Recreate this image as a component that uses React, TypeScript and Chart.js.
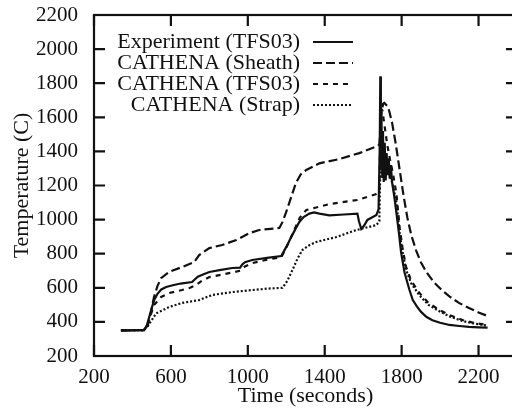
import React, { useEffect, useRef } from "react";
import { Chart, registerables } from "chart.js";

Chart.register(...registerables);

// Experiment (TFS03) thermocouple reading
const expTime = [340, 460, 475, 490, 500, 512, 530, 550, 575, 610, 650, 710, 725, 740, 770, 800, 860, 919, 960, 970, 985, 1023, 1100, 1174, 1200, 1226, 1250, 1268, 1290, 1320, 1345, 1372, 1424, 1500, 1570, 1578, 1590, 1605, 1622, 1650, 1669, 1680, 1686, 1689, 1692, 1695, 1699, 1703, 1707, 1712, 1717, 1722, 1727, 1733, 1738, 1744, 1750, 1760, 1771, 1785, 1797, 1815, 1840, 1858, 1880, 1900, 1928, 1960, 2000, 2049, 2100, 2150, 2200, 2247];
const expTemp = [350, 352, 380, 440, 480, 525, 565, 590, 605, 615, 625, 634, 650, 665, 680, 693, 705, 716, 718, 735, 750, 763, 775, 786, 840, 898, 950, 986, 1015, 1035, 1042, 1035, 1025, 1030, 1035, 990, 945, 965, 998, 1015, 1027, 1060, 1420, 1840, 1300, 1600, 1250, 1520, 1220, 1450, 1230, 1390, 1260, 1360, 1240, 1320, 1220, 1150, 1056, 930, 810, 690, 590, 528, 490, 460, 430, 410, 395, 382, 376, 371, 368, 366];

// CATHENA (Sheath)
const sheathTime = [340, 460, 480, 495, 512, 530, 549, 590, 658, 721, 747, 800, 867, 940, 1007, 1059, 1164, 1180, 1198, 1225, 1250, 1275, 1304, 1372, 1476, 1580, 1674, 1684, 1690, 1697, 1704, 1710, 1730, 1750, 1770, 1790, 1810, 1830, 1850, 1875, 1900, 1930, 1970, 2010, 2050, 2100, 2153, 2200, 2248];
const sheathTemp = [350, 352, 380, 450, 546, 610, 657, 693, 722, 751, 792, 833, 851, 880, 920, 939, 951, 985, 1039, 1130, 1215, 1265, 1291, 1330, 1355, 1390, 1432, 1440, 1520, 1640, 1680, 1684, 1660, 1570, 1440, 1290, 1140, 1010, 910, 820, 750, 690, 630, 585, 548, 510, 480, 455, 434];

// CATHENA (TFS03)
const tfsTime = [340, 460, 480, 495, 512, 549, 590, 658, 700, 731, 760, 800, 919, 960, 985, 1023, 1100, 1174, 1200, 1226, 1250, 1270, 1304, 1424, 1570, 1669, 1684, 1688, 1693, 1700, 1710, 1725, 1740, 1755, 1773, 1790, 1805, 1823, 1850, 1893, 1940, 1997, 2050, 2117, 2180, 2248];
const tfsTemp = [350, 352, 390, 440, 499, 546, 569, 587, 600, 616, 640, 663, 690, 700, 725, 745, 765, 780, 835, 900, 960, 1010, 1056, 1091, 1115, 1150, 1160, 1450, 1650, 1640, 1560, 1440, 1350, 1270, 1150, 950, 830, 723, 640, 569, 510, 470, 440, 411, 393, 382];

// CATHENA (Strap)
const strapTime = [340, 460, 480, 500, 523, 560, 590, 658, 747, 815, 919, 1007, 1100, 1180, 1205, 1232, 1258, 1284, 1320, 1356, 1461, 1565, 1669, 1684, 1688, 1694, 1702, 1712, 1725, 1740, 1755, 1773, 1790, 1805, 1823, 1850, 1893, 1940, 1997, 2050, 2117, 2180, 2248];
const strapTemp = [350, 352, 375, 410, 450, 470, 487, 511, 528, 558, 575, 585, 595, 600, 640, 704, 770, 822, 850, 869, 898, 939, 968, 990, 1250, 1420, 1400, 1360, 1300, 1260, 1200, 1100, 920, 810, 705, 625, 555, 500, 462, 432, 405, 390, 378];

const seriesLabels = ["Experiment (TFS03)", "CATHENA (Sheath)", "CATHENA (TFS03)", "CATHENA (Strap)"];
const seriesDash: number[][] = [[], [9, 4], [5, 5], [2, 2]];

const xTicks = [200, 600, 1000, 1400, 1800, 2200];
const yTicks = [200, 400, 600, 800, 1000, 1200, 1400, 1600, 1800, 2000, 2200];

const FONT = "'Liberation Serif', 'Times New Roman', serif";
const INK = "#111";

const toPoints = (xs: number[], ys: number[]) => xs.map((x, i) => ({ x, y: ys[i] }));

// Frame with inward tick marks on all four sides
const framePlugin = {
  id: "frame",
  afterDatasetsDraw(chart: any) {
    const { ctx, chartArea: a, scales } = chart;
    const len = 11;
    ctx.save();
    ctx.strokeStyle = INK;
    ctx.lineWidth = 2.2;
    ctx.strokeRect(a.left, a.top, a.right - a.left, a.bottom - a.top);
    ctx.beginPath();
    yTicks.forEach((v) => {
      const y = scales.y.getPixelForValue(v);
      ctx.moveTo(a.left, y);
      ctx.lineTo(a.left + len, y);
      ctx.moveTo(a.right, y);
      ctx.lineTo(a.right - len, y);
    });
    xTicks.forEach((v) => {
      const x = scales.x.getPixelForValue(v);
      ctx.moveTo(x, a.bottom);
      ctx.lineTo(x, a.bottom - len);
      ctx.moveTo(x, a.top);
      ctx.lineTo(x, a.top + len);
    });
    ctx.stroke();
    ctx.restore();
  },
};

// Legend: right-aligned labels with line samples to their right
const legendPlugin = {
  id: "inlineLegend",
  afterDraw(chart: any) {
    const { ctx, chartArea: a } = chart;
    const textRight = a.left + 206;
    const lineStart = a.left + 219;
    const lineEnd = a.left + 259;
    const firstRow = a.top + 27;
    const rowGap = 21;
    ctx.save();
    ctx.font = `22px ${FONT}`;
    ctx.fillStyle = INK;
    ctx.textAlign = "right";
    ctx.textBaseline = "middle";
    chart.data.datasets.forEach((ds: any, i: number) => {
      const y = firstRow + i * rowGap;
      ctx.fillText(ds.label, textRight, y);
      ctx.beginPath();
      ctx.setLineDash(ds.borderDash || []);
      ctx.lineWidth = ds.borderWidth;
      ctx.strokeStyle = INK;
      ctx.moveTo(lineStart, y);
      ctx.lineTo(lineEnd, y);
      ctx.stroke();
    });
    ctx.restore();
  },
};

export default function App() {
  const ref = useRef<HTMLCanvasElement | null>(null);

  useEffect(() => {
    document.body.style.margin = "0";
    const canvas = ref.current;
    if (!canvas) return;
    const series = [
      toPoints(expTime, expTemp),
      toPoints(sheathTime, sheathTemp),
      toPoints(tfsTime, tfsTemp),
      toPoints(strapTime, strapTemp),
    ];
    const chart = new Chart(canvas, {
      type: "line",
      data: {
        datasets: series.map((pts, i) => ({
          label: seriesLabels[i],
          data: pts,
          borderColor: INK,
          borderWidth: 2.2,
          borderDash: seriesDash[i],
          pointRadius: 0,
          tension: 0,
          fill: false,
        })),
      },
      options: {
        responsive: false,
        animation: false,
        layout: { padding: { top: 15, right: 13, left: 0, bottom: 0 } },
        plugins: {
          legend: { display: false },
          tooltip: { enabled: false },
        },
        scales: {
          x: {
            type: "linear",
            min: 200,
            max: 2400,
            grid: { display: false, drawTicks: false, tickLength: 0 },
            border: { display: false },
            afterFit: (s: any) => {
              s.height = 53;
              s.paddingLeft = 0;
              s.paddingRight = 0;
            },
            afterBuildTicks: (s: any) => {
              s.ticks = xTicks.map((value) => ({ value }));
            },
            ticks: {
              padding: 9,
              maxRotation: 0,
              autoSkip: false,
              color: INK,
              font: { family: FONT, size: 21 },
              callback: (v: any) => String(v),
            },
            title: {
              display: true,
              text: "Time (seconds)",
              color: INK,
              font: { family: FONT, size: 22 },
              padding: { top: 0, bottom: 0 },
            },
          },
          y: {
            type: "linear",
            min: 200,
            max: 2200,
            grid: { display: false, drawTicks: false, tickLength: 0 },
            border: { display: false },
            afterFit: (s: any) => {
              s.width = 94;
              s.paddingTop = 0;
              s.paddingBottom = 0;
            },
            afterBuildTicks: (s: any) => {
              s.ticks = yTicks.map((value) => ({ value }));
            },
            ticks: {
              padding: 16,
              autoSkip: false,
              color: INK,
              font: { family: FONT, size: 21 },
              callback: (v: any) => String(v),
            },
            title: {
              display: true,
              text: "Temperature (C)",
              color: INK,
              font: { family: FONT, size: 22 },
              padding: { top: 9, bottom: 0 },
            },
          },
        },
      },
      plugins: [framePlugin, legendPlugin],
    });
    return () => chart.destroy();
  }, []);

  return (
    <div style={{ width: 512, height: 409, overflow: "hidden", background: "#fff" }}>
      <canvas ref={ref} width={530} height={409} style={{ display: "block", width: 530, height: 409 }} />
    </div>
  );
}
